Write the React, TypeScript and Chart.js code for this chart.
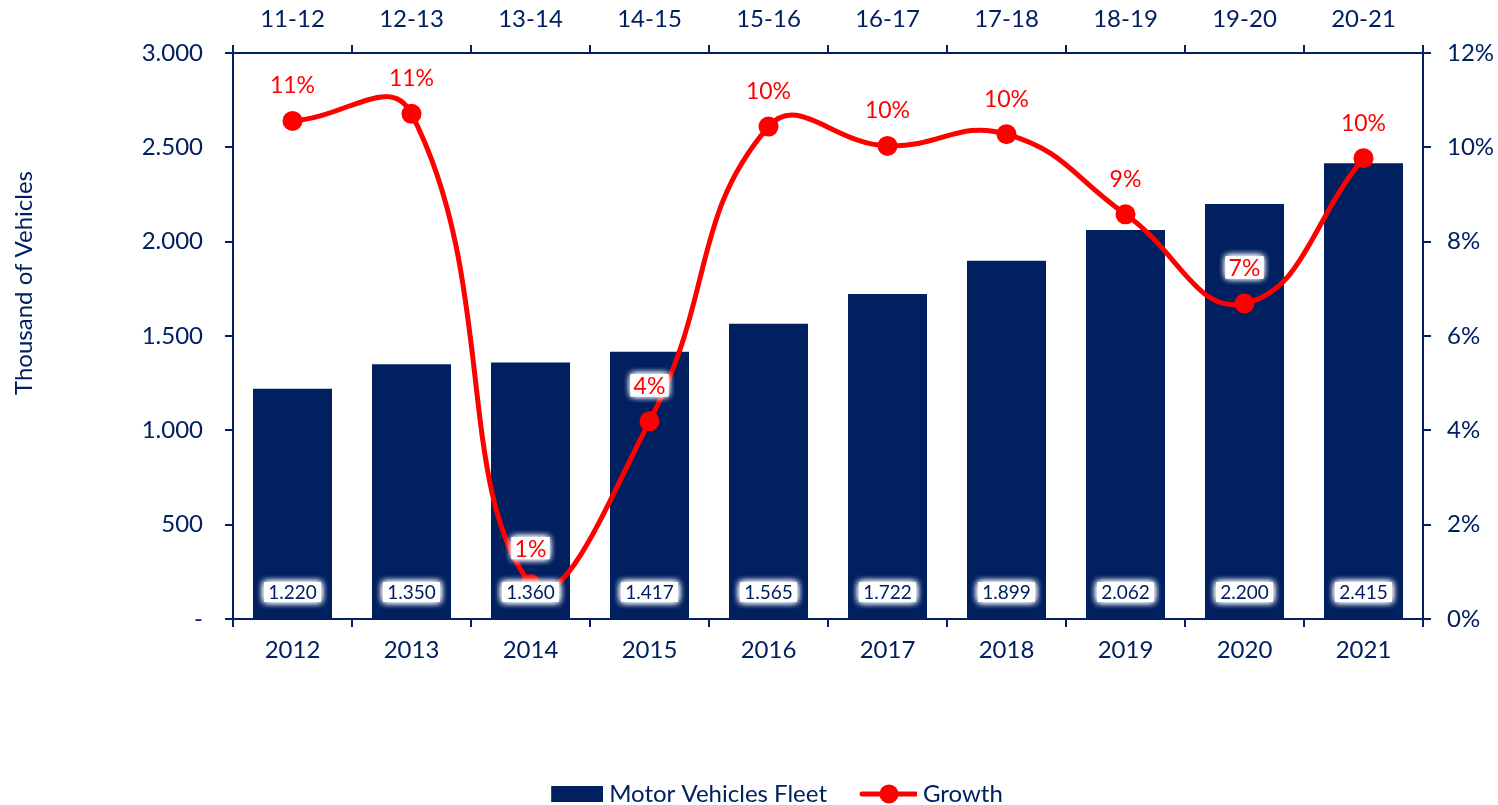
import React, { useEffect, useRef } from 'react';
import { Chart, registerables } from 'chart.js';

Chart.register(...registerables);

// ---- data ----
const years = ['2012', '2013', '2014', '2015', '2016', '2017', '2018', '2019', '2020', '2021'];
const periods = ['11-12', '12-13', '13-14', '14-15', '15-16', '16-17', '17-18', '18-19', '19-20', '20-21'];
const fleet = [1220, 1350, 1360, 1417, 1565, 1722, 1899, 2062, 2200, 2415];
const growth = [10.56, 10.71, 0.74, 4.19, 10.44, 10.03, 10.28, 8.58, 6.69, 9.77];
const seriesNames = ['Motor Vehicles Fleet', 'Growth'];
const yTitle = 'Thousand of Vehicles';

const NAVY = '#002060';
const RED = '#FF0000';
const FONT = 'Lato, "Liberation Sans", sans-serif';

const W = 1498;
const H = 816;

function fmtThousands(v: number): string {
  if (v === 0) return '-';
  const s = Math.round(v).toString();
  return s.replace(/\B(?=(\d{3})+(?!\d))/g, '.');
}

function glowBox(ctx: CanvasRenderingContext2D, cx: number, cy: number, w: number, h: number) {
  ctx.save();
  ctx.fillStyle = '#ffffff';
  ctx.shadowColor = '#ffffff';
  ctx.shadowBlur = 7;
  for (let i = 0; i < 3; i++) ctx.fillRect(cx - w / 2, cy - h / 2, w, h);
  ctx.restore();
}

const labelsPlugin = {
  id: 'valueLabels',
  afterDatasetsDraw(chart: any) {
    const ctx: CanvasRenderingContext2D = chart.ctx;
    const yScale = chart.scales.y;
    const base = yScale.getPixelForValue(0);
    // bar labels
    const barMeta = chart.getDatasetMeta(0);
    ctx.save();
    ctx.font = `19px ${FONT}`;
    ctx.textAlign = 'center';
    ctx.textBaseline = 'middle';
    barMeta.data.forEach((el: any, i: number) => {
      const txt = fmtThousands(fleet[i]);
      const tw = ctx.measureText(txt).width;
      const cy = base - 27;
      glowBox(ctx, el.x, cy, tw + 8, 19);
      ctx.fillStyle = NAVY;
      ctx.fillText(txt, el.x, cy + 1);
    });
    // point labels
    const lineMeta = chart.getDatasetMeta(1);
    ctx.font = `23px ${FONT}`;
    lineMeta.data.forEach((el: any, i: number) => {
      const txt = Math.round(growth[i]) + '%';
      const tw = ctx.measureText(txt).width;
      const cy = el.y - 36;
      glowBox(ctx, el.x, cy, tw + 6, 22);
      ctx.fillStyle = RED;
      ctx.fillText(txt, el.x, cy + 1);
    });
    ctx.restore();
  },
};

const titlePlugin = {
  id: 'yTitle',
  afterDraw(chart: any) {
    const ctx: CanvasRenderingContext2D = chart.ctx;
    ctx.save();
    ctx.translate(24, 283);
    ctx.rotate(-Math.PI / 2);
    ctx.font = `24px ${FONT}`;
    ctx.fillStyle = NAVY;
    ctx.textAlign = 'center';
    ctx.textBaseline = 'middle';
    ctx.fillText(yTitle, 0, 0);
    ctx.restore();
  },
};

function makeBarSwatch(): HTMLCanvasElement {
  const c = document.createElement('canvas');
  c.width = 64;
  c.height = 20;
  const g = c.getContext('2d')!;
  g.fillStyle = NAVY;
  g.fillRect(12, 2, 52, 16);
  return c;
}

function makeLineSwatch(): HTMLCanvasElement {
  const c = document.createElement('canvas');
  c.width = 64;
  c.height = 22;
  const g = c.getContext('2d')!;
  g.strokeStyle = RED;
  g.lineWidth = 5;
  g.lineCap = 'round';
  g.beginPath();
  g.moveTo(9, 11);
  g.lineTo(63, 11);
  g.stroke();
  g.fillStyle = RED;
  g.beginPath();
  g.arc(36, 11, 9.5, 0, Math.PI * 2);
  g.fill();
  return c;
}

const axisGrid = {
  drawOnChartArea: false,
  color: NAVY,
  lineWidth: 2,
  tickLength: 8,
};
const axisBorder = { color: NAVY, width: 2 };

export default function App() {
  const ref = useRef<HTMLCanvasElement | null>(null);

  useEffect(() => {
    if (!ref.current) return;
    const barSwatch = makeBarSwatch();
    const lineSwatch = makeLineSwatch();
    const chart = new Chart(ref.current, {
      type: 'bar',
      data: {
        labels: years,
        datasets: [
          {
            type: 'bar',
            label: seriesNames[0],
            data: fleet,
            backgroundColor: NAVY,
            borderWidth: 0,
            barPercentage: 0.664,
            categoryPercentage: 1,
            xAxisID: 'x',
            yAxisID: 'y',
            order: 1,
          } as any,
          {
            type: 'line',
            label: seriesNames[1],
            data: growth,
            borderColor: RED,
            backgroundColor: RED,
            borderWidth: 5,
            tension: 0.45,
            pointRadius: 10,
            pointBorderWidth: 0,
            pointBackgroundColor: RED,
            xAxisID: 'x',
            yAxisID: 'y1',
            order: 0,
          } as any,
        ],
      },
      options: {
        responsive: false,
        animation: false,
        maintainAspectRatio: false,
        layout: { padding: { left: 50, right: 0, top: 0, bottom: 0 } },
        plugins: {
          tooltip: { enabled: false },
          legend: {
            display: true,
            position: 'bottom',
            labels: {
              usePointStyle: true,
              pointStyleWidth: 52,
              padding: 32,
              color: NAVY,
              font: { family: FONT, size: 24 },
              generateLabels: () => [
                { text: seriesNames[0], pointStyle: barSwatch, fillStyle: NAVY, strokeStyle: NAVY, lineWidth: 0, hidden: false, datasetIndex: 0, fontColor: NAVY } as any,
                { text: seriesNames[1], pointStyle: lineSwatch, fillStyle: RED, strokeStyle: RED, lineWidth: 0, hidden: false, datasetIndex: 1, fontColor: NAVY } as any,
              ],
            },
          },
        },
        scales: {
          x: {
            type: 'category',
            position: 'bottom',
            offset: true,
            grid: { ...axisGrid, offset: true },
            border: axisBorder,
            ticks: { color: NAVY, font: { family: FONT, size: 24 }, padding: 9 },
            afterFit: (s: any) => { s.height = 131; },
          },
          x2: {
            type: 'category',
            position: 'top',
            labels: periods,
            offset: true,
            grid: { ...axisGrid, offset: true },
            border: axisBorder,
            ticks: { color: NAVY, font: { family: FONT, size: 24 }, padding: 11 },
            afterFit: (s: any) => { s.height = 53; },
          },
          y: {
            type: 'linear',
            position: 'left',
            min: 0,
            max: 3000,
            ticks: {
              stepSize: 500,
              color: NAVY,
              font: { family: FONT, size: 24 },
              padding: 22,
              callback: (v: any) => fmtThousands(Number(v)),
            },
            grid: axisGrid,
            border: axisBorder,
            afterFit: (s: any) => { s.width = 183; },
          },
          y1: {
            type: 'linear',
            position: 'right',
            min: 0,
            max: 12,
            ticks: {
              stepSize: 2,
              color: NAVY,
              font: { family: FONT, size: 24 },
              padding: 16,
              callback: (v: any) => v + '%',
            },
            grid: axisGrid,
            border: axisBorder,
            afterFit: (s: any) => { s.width = 75; },
          },
        },
      } as any,
      plugins: [labelsPlugin, titlePlugin],
    });
    return () => chart.destroy();
  }, []);

  return (
    <div style={{ position: 'absolute', left: 0, top: 0, width: W, height: 805, overflow: 'hidden', background: '#fff' }}>
      <canvas ref={ref} width={W} height={H} style={{ display: 'block', width: W, height: H }} />
    </div>
  );
}
